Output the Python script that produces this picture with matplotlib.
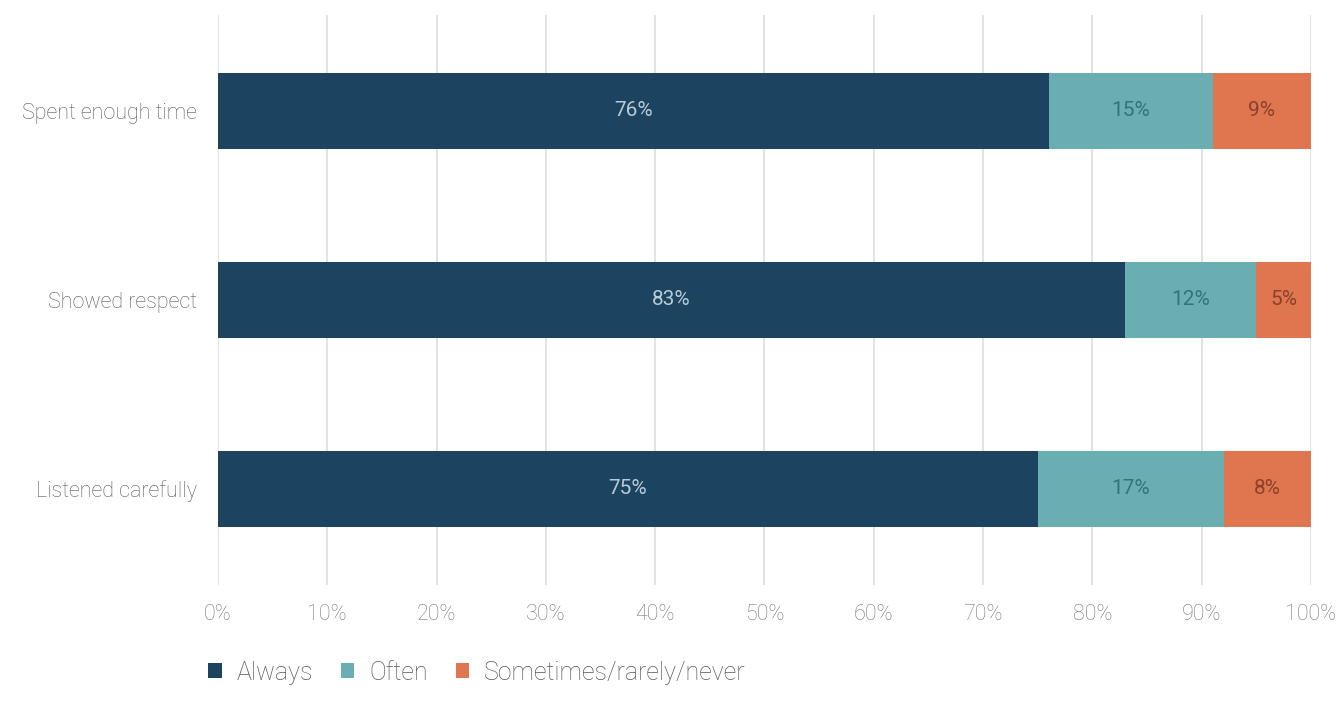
import matplotlib.pyplot as plt
from matplotlib.patches import Patch

plt.rcParams['font.family'] = ['Roboto', 'DejaVu Sans']

categories = ['Spent enough time', 'Showed respect', 'Listened carefully']
always = [76, 83, 75]
often = [15, 12, 17]
rarely = [9, 5, 8]
series_names = ['Always', 'Often', 'Sometimes/rarely/never']
x_ticks = list(range(0, 101, 10))

colors = ['#1c4460', '#6aaeb2', '#df7650']
text_colors = ['#b9cbd6', '#35737a', '#8a4228']

fig = plt.figure(figsize=(13.44, 7.14), dpi=100)
ax = fig.add_axes([0.1622, 0.1807, 0.8132, 0.7983])

y = list(range(len(categories)))
left = [0] * len(categories)
for vals, c, tc in zip([always, often, rarely], colors, text_colors):
    bars = ax.barh(y, vals, left=left, height=0.4, color=c, zorder=2)
    for b, v in zip(bars, vals):
        ax.text(b.get_x() + b.get_width() / 2, b.get_y() + b.get_height() / 2,
                f'{v}%', ha='center', va='center', fontsize=15, color=tc)
    left = [l + v for l, v in zip(left, vals)]

ax.set_xlim(0, 100)
ax.set_ylim(2.508, -0.508)
ax.set_yticks(y)
ax.set_yticklabels(categories, fontsize=15.5, color='#5a5a5a', fontweight='light')
ax.set_xticks(x_ticks)
ax.set_xticklabels([f'{t}%' for t in x_ticks], fontsize=15.5, color='#777777', fontweight='light')
ax.tick_params(axis='both', length=0)
ax.tick_params(axis='y', pad=15)
ax.tick_params(axis='x', pad=14)
ax.grid(axis='x', color='#dddddd', linewidth=1.2, zorder=0)
for s in ax.spines.values():
    s.set_visible(False)

handles = [Patch(facecolor=c, label=n) for c, n in zip(colors, series_names)]
fig.legend(handles=handles, loc='center left', bbox_to_anchor=(0.138, 0.058), ncol=3,
           frameon=False, handlelength=0.55, handleheight=0.55,
           handletextpad=0.6, columnspacing=1.1, labelcolor='#555555',
           prop={'weight': 'light', 'size': 18})

fig.savefig('out.png', dpi=100, facecolor='white')
